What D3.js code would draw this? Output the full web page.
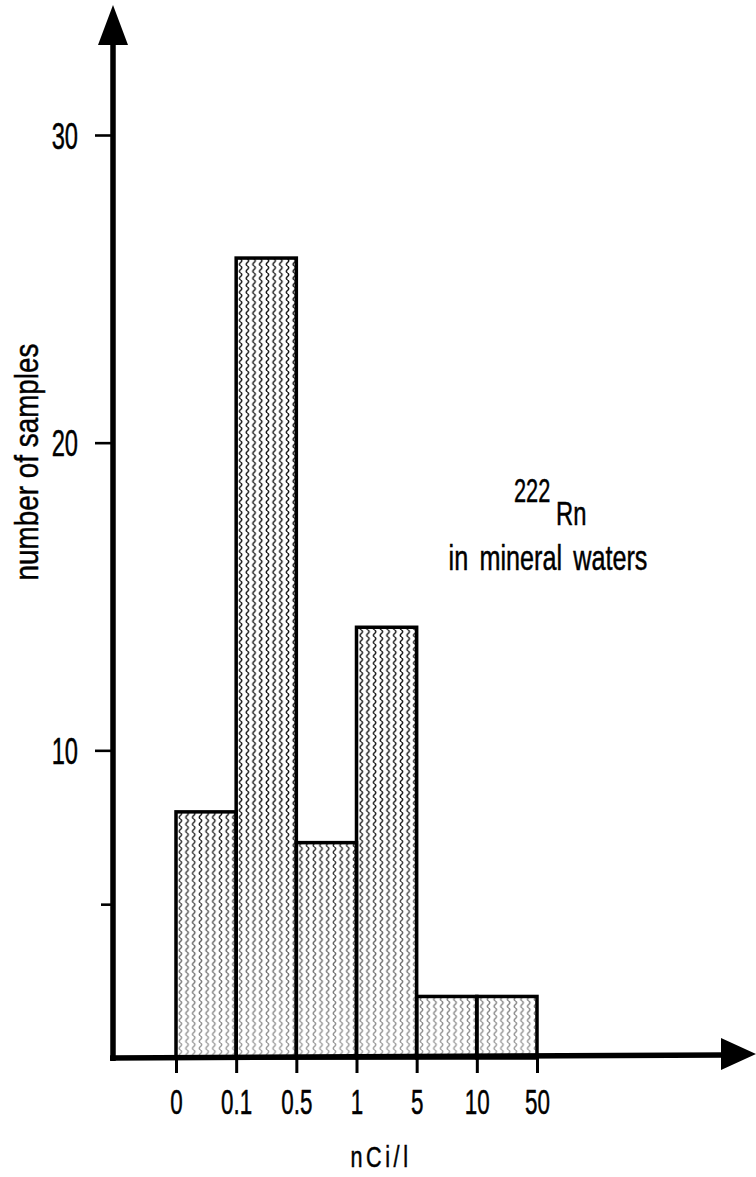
<!DOCTYPE html>
<html>
<head>
<meta charset="utf-8">
<script src="https://cdn.jsdelivr.net/npm/d3@7"></script>
<style>
  html, body { margin: 0; padding: 0; background: #fff; }
  svg { display: block; }
  text { font-family: "Liberation Sans", Arial, sans-serif; fill: #000; stroke: #000; stroke-width: 0.5px; }
</style>
</head>
<body>
<svg id="chart" width="756" height="1177"></svg>
<script>
// Class boundaries (nCi/l) and the number of samples falling in each class
const edges = ["0", "0.1", "0.5", "1", "5", "10", "50"];
const counts = [8, 26, 7, 14, 2, 2];
const yTicks = [10, 20, 30];
const yMinorTicks = [5];

const W = 756, H = 1177;
const svg = d3.select("#chart");

const x = d3.scalePoint().domain(edges).range([176, 537]);
const y = d3.scaleLinear().domain([0, 30]).range([1058, 135]);

const axisX = 113;     // vertical axis position
const axisY = y(0);    // horizontal axis position
const narrow = 0.64;   // horizontal squeeze for the condensed lettering

// ---- fill: vertical wavy hatching, fading toward the baseline ----
const defs = svg.append("defs");
const pat = defs.append("pattern")
  .attr("id", "wavy")
  .attr("patternUnits", "userSpaceOnUse")
  .attr("x", x(edges[0]) + 1)
  .attr("y", 0)
  .attr("width", 6.7)
  .attr("height", 7);
pat.append("rect").attr("width", 6.7).attr("height", 7).attr("fill", "#fff");
pat.append("path")
  .attr("d", "M3.35,0 Q5.7,1.75 3.35,3.5 Q1.0,5.25 3.35,7")
  .attr("fill", "none")
  .attr("stroke", "#111")
  .attr("stroke-width", 1.4);

const fade = defs.append("linearGradient")
  .attr("id", "fade")
  .attr("gradientUnits", "userSpaceOnUse")
  .attr("x1", 0).attr("x2", 0)
  .attr("y1", 800).attr("y2", axisY);
fade.append("stop").attr("offset", 0).attr("stop-color", "#fff").attr("stop-opacity", 0);
fade.append("stop").attr("offset", 1).attr("stop-color", "#fff").attr("stop-opacity", 0.6);

const bins = counts.map((c, i) => ({ lo: edges[i], hi: edges[i + 1], n: c }));

const bars = svg.append("g").attr("class", "bars");
bars.selectAll("rect.fill")
  .data(bins).join("rect")
  .attr("class", "fill")
  .attr("x", d => x(d.lo))
  .attr("y", d => y(d.n))
  .attr("width", d => x(d.hi) - x(d.lo))
  .attr("height", d => y(0) - y(d.n))
  .attr("fill", "url(#wavy)");
bars.selectAll("rect.fade")
  .data(bins).join("rect")
  .attr("class", "fade")
  .attr("x", d => x(d.lo))
  .attr("y", d => y(d.n))
  .attr("width", d => x(d.hi) - x(d.lo))
  .attr("height", d => y(0) - y(d.n))
  .attr("fill", "url(#fade)");
bars.selectAll("rect.edge")
  .data(bins).join("rect")
  .attr("class", "edge")
  .attr("x", d => x(d.lo))
  .attr("y", d => y(d.n))
  .attr("width", d => x(d.hi) - x(d.lo))
  .attr("height", d => y(0) - y(d.n))
  .attr("fill", "none")
  .attr("stroke", "#000")
  .attr("stroke-width", 3.5)
  .attr("stroke-linejoin", "miter");

// ---- vertical axis ----
const gy = svg.append("g").attr("transform", `translate(${axisX},0)`);
gy.call(d3.axisLeft(y).tickValues(yTicks).tickSize(18).tickFormat(d3.format("d")));
gy.select(".domain").remove();
gy.selectAll(".tick line").attr("stroke", "#000").attr("stroke-width", 2.6);
gy.selectAll(".tick text")
  .attr("x", -35 / narrow)
  .attr("dy", "0.36em")
  .attr("transform", `scale(${narrow},1)`)
  .style("font-size", "37px")
  .attr("text-anchor", "end");

const gyMinor = svg.append("g").attr("transform", `translate(${axisX},0)`);
gyMinor.call(d3.axisLeft(y).tickValues(yMinorTicks).tickSize(12).tickFormat(""));
gyMinor.select(".domain").remove();
gyMinor.selectAll(".tick line").attr("stroke", "#000").attr("stroke-width", 2.6);

// ---- horizontal axis ticks and class-boundary labels ----
const gx = svg.append("g").attr("transform", `translate(0,${axisY})`);
gx.call(d3.axisBottom(x).tickSize(15));
gx.select(".domain").remove();
gx.selectAll(".tick line").attr("stroke", "#000").attr("stroke-width", 3);
gx.selectAll(".tick text")
  .attr("y", 56)
  .attr("dy", 0)
  .attr("transform", `scale(${narrow},1)`)
  .style("font-size", "35px");

// ---- axis lines with arrowheads ----
svg.append("line")
  .attr("x1", axisX).attr("y1", axisY + 3)
  .attr("x2", axisX).attr("y2", 40)
  .attr("stroke", "#000").attr("stroke-width", 5.5);
svg.append("path")
  .attr("d", `M${axisX},5 L${axisX - 15},45 L${axisX + 15},45 Z`)
  .attr("fill", "#000");

svg.append("line")
  .attr("x1", axisX - 3).attr("y1", axisY)
  .attr("x2", 725).attr("y2", axisY - 3)
  .attr("stroke", "#000").attr("stroke-width", 5.5);
svg.append("path")
  .attr("d", `M756,${axisY - 4} L721,${axisY - 20} L721,${axisY + 12} Z`)
  .attr("fill", "#000");

// ---- titles ----
function label(tx, ty, str, size, anchor, sx, extra) {
  const t = svg.append("text")
    .attr("transform", `translate(${tx},${ty}) scale(${sx},1)`)
    .attr("text-anchor", anchor)
    .style("font-size", size + "px")
    .text(str);
  if (extra) extra(t);
  return t;
}

label(381, 1167, "nCi/l", 30, "middle", 0.72, t => t.style("letter-spacing", "5px"));

svg.append("text")
  .attr("transform", `translate(38,462) rotate(-90) scale(0.82,1)`)
  .attr("text-anchor", "middle")
  .style("font-size", "34px")
  .text("number of samples");

label(514, 502, "222", 34, "start", narrow);
label(556, 525, "Rn", 34, "start", 0.7);
label(548, 570, "in mineral waters", 36, "middle", 0.7, t => t.style("word-spacing", "6px"));
</script>
</body>
</html>
